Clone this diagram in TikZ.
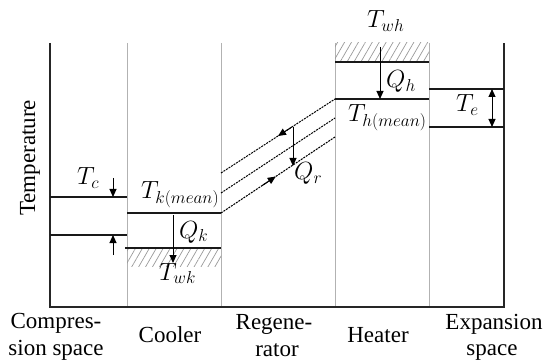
\documentclass[tikz,border=0pt]{standalone}
\usepackage{fontspec}
\setmainfont{Liberation Serif}
\usetikzlibrary{arrows.meta,patterns.meta,calc}
\begin{document}
\begin{tikzpicture}[x=1pt,y=-1pt,
  font=\fontsize{23}{27}\selectfont,
  frame/.style={line width=1.4pt, black!85},
  sep/.style={black!30, line width=1pt},
  lvl/.style={line width=1.2pt, black!90},
  regen/.style={line width=1pt, dash pattern=on 2pt off 1pt},
  arr/.style={-{Triangle[length=8pt,width=7pt]}, line width=1pt},
  darr/.style={{Triangle[length=8pt,width=7pt]}-{Triangle[length=8pt,width=7pt]}, line width=1pt},
  hatch/.style={pattern={Lines[angle=60,distance=6pt,line width=0.7pt]}, pattern color=black!40},
  lab/.style={inner sep=0pt, anchor=base west},
  captext/.style={inner sep=0pt, anchor=base}]
\useasboundingbox (0,0) rectangle (545,363);
% frame corners
\coordinate (tl) at (50,43);
\coordinate (bl) at (50,307);
\coordinate (br) at (504,307);
\coordinate (tr) at (504,43);
% separators
\foreach \x/\n in {127/a,221/b,335/c,429/d}{
  \coordinate (s\n t) at (\x,43);
  \coordinate (s\n b) at (\x,307);
  \draw[sep] (s\n t) -- (s\n b);
}
% hatched walls
\fill[hatch] (127,248) rectangle (221,266);
\fill[hatch] (335,43) rectangle (429,62);
\draw[frame] (tl) -- (bl) -- (br) -- (tr);
% levels
\coordinate (c1a) at (50,197);  \coordinate (c1b) at (127,197);
\coordinate (c2a) at (50,235);  \coordinate (c2b) at (127,235);
\coordinate (k1a) at (127,213); \coordinate (k1b) at (221,213);
\coordinate (k2a) at (125,248); \coordinate (k2b) at (221,248);
\coordinate (h1a) at (335,62);  \coordinate (h1b) at (429,62);
\coordinate (h2a) at (335,99);  \coordinate (h2b) at (429,99);
\coordinate (e1a) at (429,89);  \coordinate (e1b) at (504,89);
\coordinate (e2a) at (429,127); \coordinate (e2b) at (504,127);
\foreach \p in {c1,c2,k1,k2,h1,h2,e1,e2}{\draw[lvl] (\p a) -- (\p b);}
% regenerator lines
\coordinate (r1a) at (221,173); \coordinate (r1b) at (335,99);
\coordinate (r2a) at (221,193); \coordinate (r2b) at (335,118);
\coordinate (r3a) at (221,213); \coordinate (r3b) at (335,137);
\foreach \p in {r1,r2,r3}{\draw[regen] (\p a) -- (\p b);}
\draw[arr] ($(r1a)!0.62!(r1b)$) -- ($(r1a)!0.50!(r1b)$);
\draw[arr] ($(r3a)!0.36!(r3b)$) -- ($(r3a)!0.48!(r3b)$);
% heat arrows
\coordinate (qr1) at (293,127); \coordinate (qr2) at (293,166);
\draw[arr] (qr1) -- (qr2);
\coordinate (qk1) at (173,215); \coordinate (qk2) at (173,263);
\draw[arr] (qk1) -- (qk2);
\coordinate (qh1) at (380,47); \coordinate (qh2) at (380,99);
\draw[arr] (qh1) -- (qh2);
\coordinate (tc1) at (113,178); \draw[arr] (tc1) -- (113,197);
\coordinate (tc2) at (113,255); \draw[arr] (tc2) -- (113,235);
\draw[darr] (492,89) -- (492,127);
% labels
\node[lab] (Tc) at (77,185) {$T_c$};
\node[lab] (Te) at (456,112) {$T_e$};
\node[lab] (Tkm) at (141,199) {$T_{k(mean)}$};
\node[lab] (Qk) at (179,238) {$Q_k$};
\node[lab] (Twk) at (159,280) {$T_{wk}$};
\node[lab] (Twh) at (367,28) {$T_{wh}$};
\node[lab] (Qh) at (386,88) {$Q_h$};
\node[lab] (Thm) at (348,122) {$T_{h(mean)}$};
\node[lab] (Qr) at (294,180) {$Q_r$};
\node[rotate=90, inner sep=0pt] (temp) at (30,158) {Temperature};
% captions
\node[captext] (cs1) at (56,328) {Compres-};
\node[captext] (cs2) at (56,355) {sion space};
\node[captext] (co) at (170,342) {Cooler};
\node[captext] (rg1) at (274,329) {Regene-};
\node[captext] (rg2) at (277,356) {rator};
\node[captext] (ht) at (378,342) {Heater};
\node[captext] (ex1) at (494,329) {Expansion};
\node[captext] (ex2) at (492,355) {space};
\end{tikzpicture}
\end{document}
